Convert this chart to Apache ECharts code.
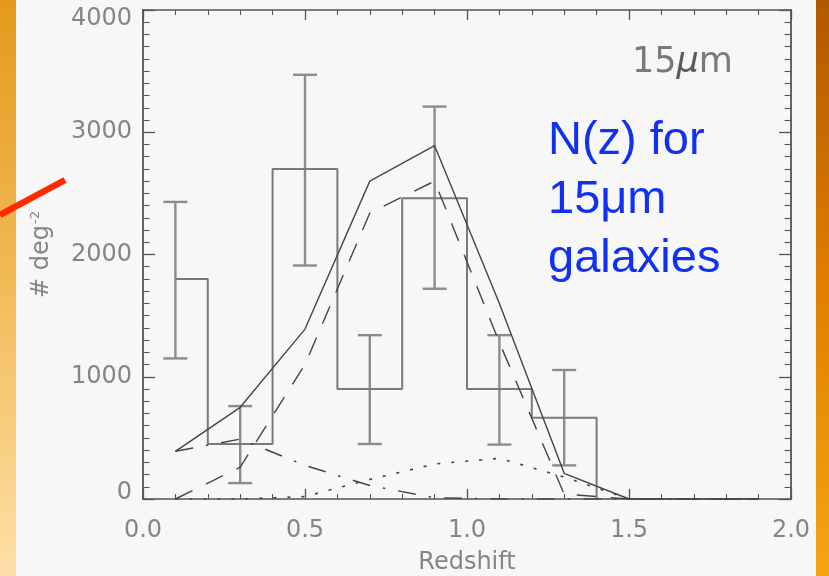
<!DOCTYPE html>
<html>
<head>
<meta charset="utf-8">
<style>
  html, body { margin: 0; padding: 0; background: #f7f7f7; }
  #chart { width: 829px; height: 576px; }
</style>
<script src="https://cdn.jsdelivr.net/npm/echarts@6/dist/echarts.min.js"></script>
</head>
<body>
<div id="chart"></div>
<script>
// Redshift bin centres (bin width 0.2)
const zBins = [0.1, 0.3, 0.5, 0.7, 0.9, 1.1, 1.3, 1.5, 1.7, 1.9];
// Observed counts per square degree
const counts = [1800, 450, 2700, 900, 2460, 900, 665, 0, 0, 0];
// Error bar limits for the observed bins
const errLow = [1150, 130, 1910, 450, 1720, 445, 275];
const errHigh = [2430, 760, 3470, 1340, 3210, 1340, 1055];
// Model curves evaluated at the bin centres
const modelTotal = [390, 750, 1390, 2600, 2890, 1600, 210, 0, 0, 0];
const modelMid = [0, 260, 1100, 2340, 2600, 1280, 40, 0, 0, 0];
const modelLow = [390, 490, 275, 110, 10, 0, 0, 0, 0, 0];
const modelHigh = [0, 0, 20, 160, 286, 333, 180, 0, 0, 0];
// Axis ranges and tick steps
const xRange = [0, 2], xStep = 0.5;
const yRange = [0, 4000], yStep = 1000;

const pairs = (ys) => zBins.map((z, i) => [z, ys[i]]);

const chart = echarts.init(document.getElementById('chart'), null, { renderer: 'canvas' });

const axisGray = '#555';
const labelGray = '#858585';
const labelFont = 'DejaVu Sans';

function xAxisDef(pos, showLabels) {
  return {
    type: 'value', position: pos, min: xRange[0], max: xRange[1], interval: xStep,
    axisLine: { show: true, onZero: false, lineStyle: { color: axisGray, width: 1.6 } },
    axisTick: { show: true, inside: true, length: 10, lineStyle: { color: axisGray, width: 1.3 } },
    minorTick: { show: true, splitNumber: 5, length: 5, lineStyle: { color: axisGray, width: 1.1 } },
    splitLine: { show: false },
    axisLabel: {
      show: showLabels, margin: 20, color: labelGray, fontFamily: labelFont, fontSize: 24,
      formatter: (v) => v.toFixed(1)
    },
    name: showLabels ? 'Redshift' : '', nameLocation: 'middle', nameGap: 52,
    nameTextStyle: { color: labelGray, fontFamily: labelFont, fontSize: 24 }
  };
}

function yAxisDef(pos, showLabels) {
  const base = { color: labelGray, fontFamily: labelFont, fontSize: 24 };
  return {
    type: 'value', position: pos, min: yRange[0], max: yRange[1], interval: yStep,
    axisLine: { show: true, onZero: false, lineStyle: { color: axisGray, width: 1.8 } },
    axisTick: { show: true, inside: true, length: 12, lineStyle: { color: axisGray, width: 1.3 } },
    minorTick: { show: true, splitNumber: 10, length: 6.5, lineStyle: { color: axisGray, width: 1.1 } },
    splitLine: { show: false },
    axisLabel: {
      show: showLabels, margin: 11, ...base,
      // end labels are nudged inward so they stay within the panel height
      formatter: (v) => (v === yRange[1] ? '{top|' + v + '}' : v === yRange[0] ? '{bot|' + v + '}' : String(v)),
      rich: {
        top: { ...base, padding: [17, 0, 0, 0] },
        bot: { ...base, padding: [0, 0, 12, 0] }
      }
    },
    name: showLabels ? '{a|# deg}{b|-2}' : '', nameLocation: 'middle', nameGap: 88, nameRotate: 90,
    nameTextStyle: {
      rich: {
        a: { ...base, lineHeight: 26 },
        b: { ...base, fontSize: 13, lineHeight: 26, verticalAlign: 'top', padding: [0, 0, 0, 1] }
      }
    }
  };
}

function modelLine(name, ys, dash, width) {
  return {
    name, type: 'line', data: pairs(ys), symbol: 'none', smooth: false, z: 4,
    lineStyle: { color: '#454545', width: width || 1.4, type: dash, cap: 'butt' }
  };
}

const option = {
  backgroundColor: '#f7f7f7',
  animation: false,
  grid: { left: 143, top: 10, width: 648, height: 489, containLabel: false, outerBoundsMode: 'none' },
  xAxis: [xAxisDef('bottom', true), xAxisDef('top', false)],
  yAxis: [yAxisDef('left', true), yAxisDef('right', false)],
  graphic: [
    // side strips of the slide background
    { type: 'rect', z: -10, shape: { x: 0, y: 0, width: 16, height: 576 },
      style: { fill: { type: 'linear', x: 0, y: 0, x2: 0, y2: 1,
        colorStops: [{ offset: 0, color: '#e39a1c' }, { offset: 0.5, color: '#f2bb58' }, { offset: 1, color: '#fde0a8' }] } } },
    { type: 'rect', z: -10, shape: { x: 816, y: 0, width: 13, height: 576 },
      style: { fill: { type: 'linear', x: 0, y: 0, x2: 0, y2: 1,
        colorStops: [{ offset: 0, color: '#b05800' }, { offset: 0.5, color: '#e17f00' }, { offset: 1, color: '#f4a512' }] } } },
    // red pointer stroke
    { type: 'line', z: 20, shape: { x1: 0, y1: 215, x2: 65, y2: 180 },
      style: { stroke: '#ff2a00', lineWidth: 6.5 } },
    // band label
    { type: 'text', z: 20, left: 632, top: 45,
      style: { text: '{n|15}{m|μ}{n|m}',
        rich: {
          n: { fill: '#7a7a7a', fontFamily: labelFont, fontSize: 35 },
          m: { fill: '#5a5a5a', fontFamily: labelFont, fontStyle: 'italic', fontSize: 35 }
        } } },
    // annotation
    { type: 'text', z: 20, x: 548, y: 112,
      style: { text: 'N(z) for\n15μm\ngalaxies', fill: '#1030f2', fontFamily: 'Liberation Sans',
        fontSize: 47, lineHeight: 59, verticalAlign: 'top' } }
  ],
  series: [
    {
      name: 'observed', type: 'line', data: pairs(counts), step: 'middle', symbol: 'none', z: 3,
      lineStyle: { color: '#7a7a7a', width: 2 }
    },
    {
      name: 'errors', type: 'custom', z: 2,
      data: errLow.map((lo, i) => [zBins[i], lo, errHigh[i]]),
      encode: { x: 0, y: [1, 2] },
      renderItem: (params, api) => {
        const lo = api.coord([api.value(0), api.value(1)]);
        const hi = api.coord([api.value(0), api.value(2)]);
        const cap = 12;
        const st = { stroke: '#8c8c8c', lineWidth: 2.4 };
        return {
          type: 'group',
          children: [
            { type: 'line', shape: { x1: lo[0], y1: lo[1], x2: hi[0], y2: hi[1] }, style: st },
            { type: 'line', shape: { x1: lo[0] - cap, y1: lo[1], x2: lo[0] + cap, y2: lo[1] }, style: st },
            { type: 'line', shape: { x1: hi[0] - cap, y1: hi[1], x2: hi[0] + cap, y2: hi[1] }, style: st }
          ]
        };
      }
    },
    modelLine('total', modelTotal, 'solid'),
    modelLine('mid', modelMid, [19, 15]),
    modelLine('low', modelLow, [18, 13, 2.5, 13], 1.5),
    modelLine('high', modelHigh, [3, 11], 1.6)
  ]
};

chart.setOption(option);
</script>
</body>
</html>
